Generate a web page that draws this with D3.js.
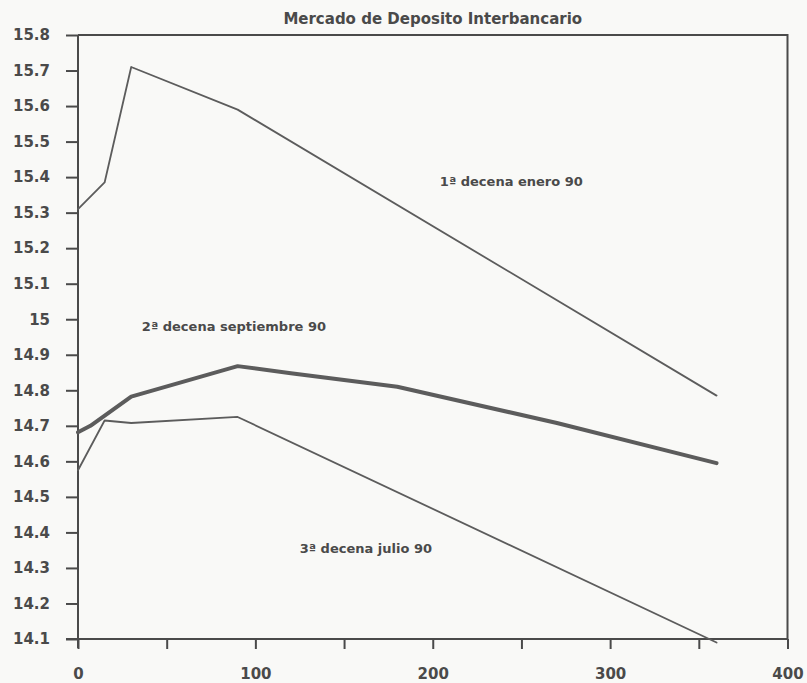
<!DOCTYPE html>
<html>
<head>
<meta charset="utf-8">
<script src="https://cdn.jsdelivr.net/npm/d3@7"></script>
<style>
    body { margin: 0; background: #f9f9f7; }
    svg { display: block; }
</style>
</head>
<body>
<div><svg width="807" height="683"></svg></div>
<script>
// days to maturity and rates
let daysEnero = [0, 15, 30, 90, 360];
let ratesEnero = [15.31, 15.385, 15.71, 15.59, 14.785];

let daysSept = [0, 7, 30, 90, 120, 180, 270, 360];
let ratesSept = [14.682, 14.70, 14.782, 14.868, 14.848, 14.81, 14.708, 14.595];

let daysJulio = [0, 15, 30, 90, 360];
let ratesJulio = [14.575, 14.715, 14.708, 14.725, 14.09];

let seriesNames = ["1ª decena enero 90", "2ª decena septiembre 90", "3ª decena julio 90"];
let xTicks = [0, 50, 100, 150, 200, 250, 300, 350, 400];
let yTicks = [14.1, 14.2, 14.3, 14.4, 14.5, 14.6, 14.7, 14.8, 14.9, 15, 15.1, 15.2, 15.3, 15.4, 15.5, 15.6, 15.7, 15.8];
let title = "Mercado de Deposito Interbancario";

let margin = {top: 35, right: 20, bottom: 44, left: 78},
    width = 807 - margin.left - margin.right,
    height = 683 - margin.top - margin.bottom;

let ink = "#4a4a4a";

let xdim = d3.scaleLinear().domain([0, 400]).range([margin.left, margin.left + width + 0.5]);
let ydim = d3.scaleLinear().domain([14.1, 15.8]).range([margin.top + height, margin.top]);

let svg = d3.select("body").select("div").select("svg");

// frame (top and right sides)
svg.append("path")
    .attr("d", "M" + xdim(0) + "," + ydim(15.8) + "H" + xdim(400) + "V" + ydim(14.1))
    .attr("fill", "none")
    .attr("stroke", ink)
    .attr("stroke-width", 2);

let xAxis = svg.append("g")
    .attr("transform", "translate(0," + ydim(14.1) + ")")
    .call(d3.axisBottom(xdim).tickValues(xTicks).tickSize(10).tickPadding(19)
        .tickFormat(function(d) { return d % 100 == 0 ? d : ""; }));

let yAxis = svg.append("g")
    .attr("transform", "translate(" + xdim(0) + ",0)")
    .call(d3.axisLeft(ydim).tickValues(yTicks).tickSize(12).tickPadding(16)
        .tickFormat(function(d) { return d3.format("")(+d.toFixed(1)); }));

[xAxis, yAxis].forEach(function(ax) {
    ax.select(".domain").attr("stroke", ink).attr("stroke-width", 2);
    ax.selectAll(".tick line").attr("stroke", ink).attr("stroke-width", 2);
    ax.selectAll(".tick text")
        .attr("fill", ink)
        .style("font-family", "'DejaVu Sans', sans-serif")
        .style("font-weight", "bold")
        .style("font-size", "15px");
});
// y axis runs a bit below the x axis, like the 0 tick
yAxis.select(".domain").attr("d", "M0," + ydim(15.8) + "V" + (ydim(14.1) + 9));
xAxis.select(".domain").attr("d", "M" + (xdim(0) - 12) + ",0H" + xdim(400));

svg.append("text")
    .attr("x", xdim(200))
    .attr("y", 24)
    .style("text-anchor", "middle")
    .style("font-family", "'DejaVu Sans', sans-serif")
    .style("font-weight", "bold")
    .style("font-size", "15px")
    .attr("fill", ink)
    .text(title);

let line = d3.line()
    .x(function(d) { return xdim(d[0]); })
    .y(function(d) { return ydim(d[1]); });

let series = [
    {name: seriesNames[0], pts: d3.zip(daysEnero, ratesEnero), w: 1.8},
    {name: seriesNames[1], pts: d3.zip(daysSept, ratesSept), w: 4},
    {name: seriesNames[2], pts: d3.zip(daysJulio, ratesJulio), w: 1.8}
];

svg.selectAll(".serie").data(series).enter().append("path")
    .attr("class", "serie")
    .attr("d", function(d) { return line(d.pts); })
    .attr("fill", "none")
    .attr("stroke", "#5c5c5c")
    .attr("stroke-width", function(d) { return d.w; })
    .attr("stroke-linejoin", "round")
    .attr("stroke-linecap", "round");

// labels placed by hand over the curves (day, rate)
let labelPos = [[204, 15.375], [36, 14.968], [125, 14.342]];
svg.selectAll(".lbl").data(series).enter().append("text")
    .attr("class", "lbl")
    .attr("x", function(d, i) { return xdim(labelPos[i][0]); })
    .attr("y", function(d, i) { return ydim(labelPos[i][1]); })
    .style("font-family", "'DejaVu Sans', sans-serif")
    .style("font-weight", "bold")
    .style("font-size", "13px")
    .attr("fill", ink)
    .text(function(d) { return d.name; });
</script>
</body>
</html>
